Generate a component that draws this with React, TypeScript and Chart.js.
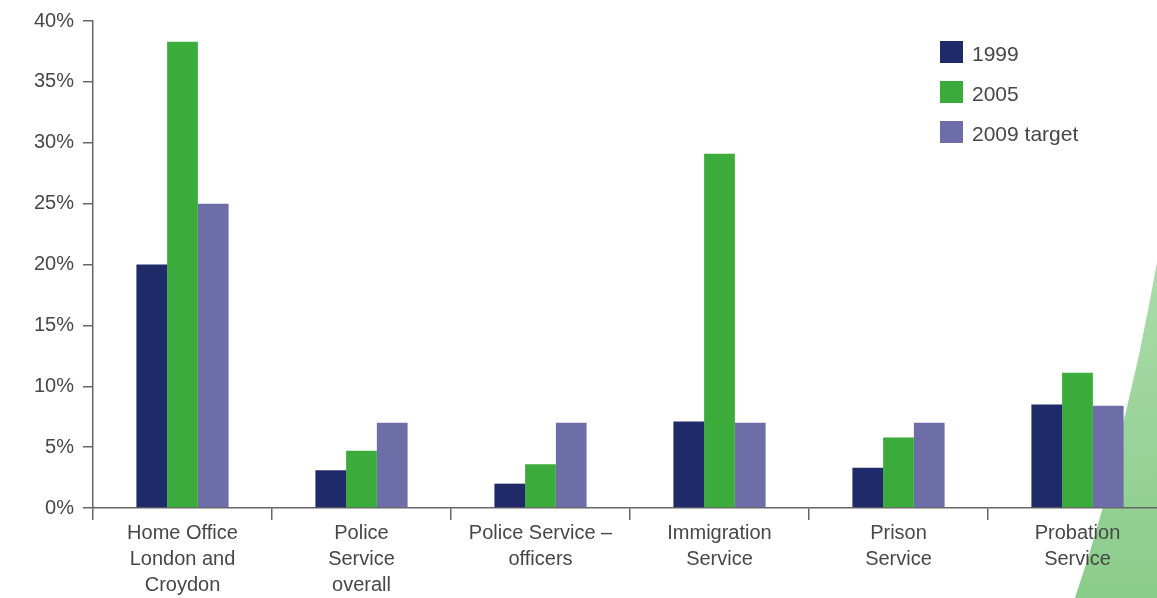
import React, { useEffect, useRef } from "react";
import { Chart, registerables } from "chart.js";

Chart.register(...registerables);

const categories: string[][] = [
  ["Home Office", "London and", "Croydon"],
  ["Police", "Service", "overall"],
  ["Police Service –", "officers"],
  ["Immigration", "Service"],
  ["Prison", "Service"],
  ["Probation", "Service"],
];
const seriesLabels = ["1999", "2005", "2009 target"];
const values1999 = [20, 3.1, 2.0, 7.1, 3.3, 8.5];
const values2005 = [38.3, 4.7, 3.6, 29.1, 5.8, 11.1];
const values2009 = [25, 7.0, 7.0, 7.0, 7.0, 8.4];
const seriesColors = ["#1f2b68", "#3bab3b", "#6d6ea8"];
const yTicks = [0, 5, 10, 15, 20, 25, 30, 35, 40];

const FONT = "'Liberation Sans', Arial, sans-serif";
const TEXT = "#474747";
const AXIS = "#666666";

export default function App() {
  const ref = useRef<HTMLCanvasElement | null>(null);
  useEffect(() => {
    if (!ref.current) return;
    const chart = new Chart(ref.current, {
      type: "bar",
      data: {
        labels: categories,
        datasets: [values1999, values2005, values2009].map((d, i) => ({
          label: seriesLabels[i],
          data: d,
          backgroundColor: seriesColors[i],
          borderWidth: 0,
          categoryPercentage: 0.515,
          barPercentage: 1.0,
        })),
      },
      options: {
        animation: false,
        responsive: false,
        maintainAspectRatio: false,
        layout: { padding: { top: 20, right: 3, left: 0, bottom: 0 } },
        plugins: { legend: { display: false }, tooltip: { enabled: false } },
        scales: {
          x: {
            offset: true,
            grid: {
              offset: true,
              drawOnChartArea: false,
              drawTicks: true,
              tickLength: 12,
              color: AXIS,
              lineWidth: 1.5,
            },
            border: { color: AXIS, width: 1.5 },
            ticks: {
              color: TEXT,
              font: { family: FONT, size: 20, lineHeight: 1.3 },
              padding: 0,
              maxRotation: 0,
              autoSkip: false,
            },
            afterFit: (s: any) => {
              s.height = 90;
            },
          },
          y: {
            min: 0,
            max: 40,
            afterBuildTicks: (s: any) => {
              s.ticks = yTicks.map((v) => ({ value: v }));
            },
            grid: {
              drawOnChartArea: false,
              drawTicks: true,
              tickLength: 10,
              color: AXIS,
              lineWidth: 1.5,
            },
            border: { color: AXIS, width: 1.5 },
            ticks: {
              color: TEXT,
              font: { family: FONT, size: 20 },
              padding: 9,
              callback: (v: any) => v + "%",
            },
            afterFit: (s: any) => {
              s.width = 93;
            },
          },
        },
      },
    });
    return () => chart.destroy();
  }, []);

  return (
    <div
      style={{
        position: "fixed",
        left: 0,
        top: 0,
        width: 1157,
        height: 598,
        overflow: "hidden",
        background: "#ffffff",
      }}
    >
      <div
        style={{
          position: "absolute",
          left: 0,
          top: 0,
          width: 1157,
          height: 598,
          background: "linear-gradient(180deg, #a9dba9 45%, #8acc8a 100%)",
          clipPath:
            "polygon(1157px 262px, 1150px 300px, 1139px 355px, 1127px 407px, 1115px 457px, 1103px 507px, 1089px 555px, 1075px 598px, 1157px 598px)",
        }}
      />
      <canvas
        ref={ref}
        width={1170}
        height={598}
        style={{ position: "absolute", left: 0, top: 0, width: 1170, height: 598 }}
      />
      <div style={{ position: "absolute", left: 940, top: 41, fontFamily: FONT, fontSize: 21, color: TEXT }}>
        {seriesLabels.map((l, i) => (
          <div key={l} style={{ display: "flex", alignItems: "center", height: 22, marginBottom: 18 }}>
            <div style={{ width: 23, height: 22, background: seriesColors[i], marginRight: 9 }} />
            <span style={{ lineHeight: "22px", position: "relative", top: 2 }}>{l}</span>
          </div>
        ))}
      </div>
    </div>
  );
}
